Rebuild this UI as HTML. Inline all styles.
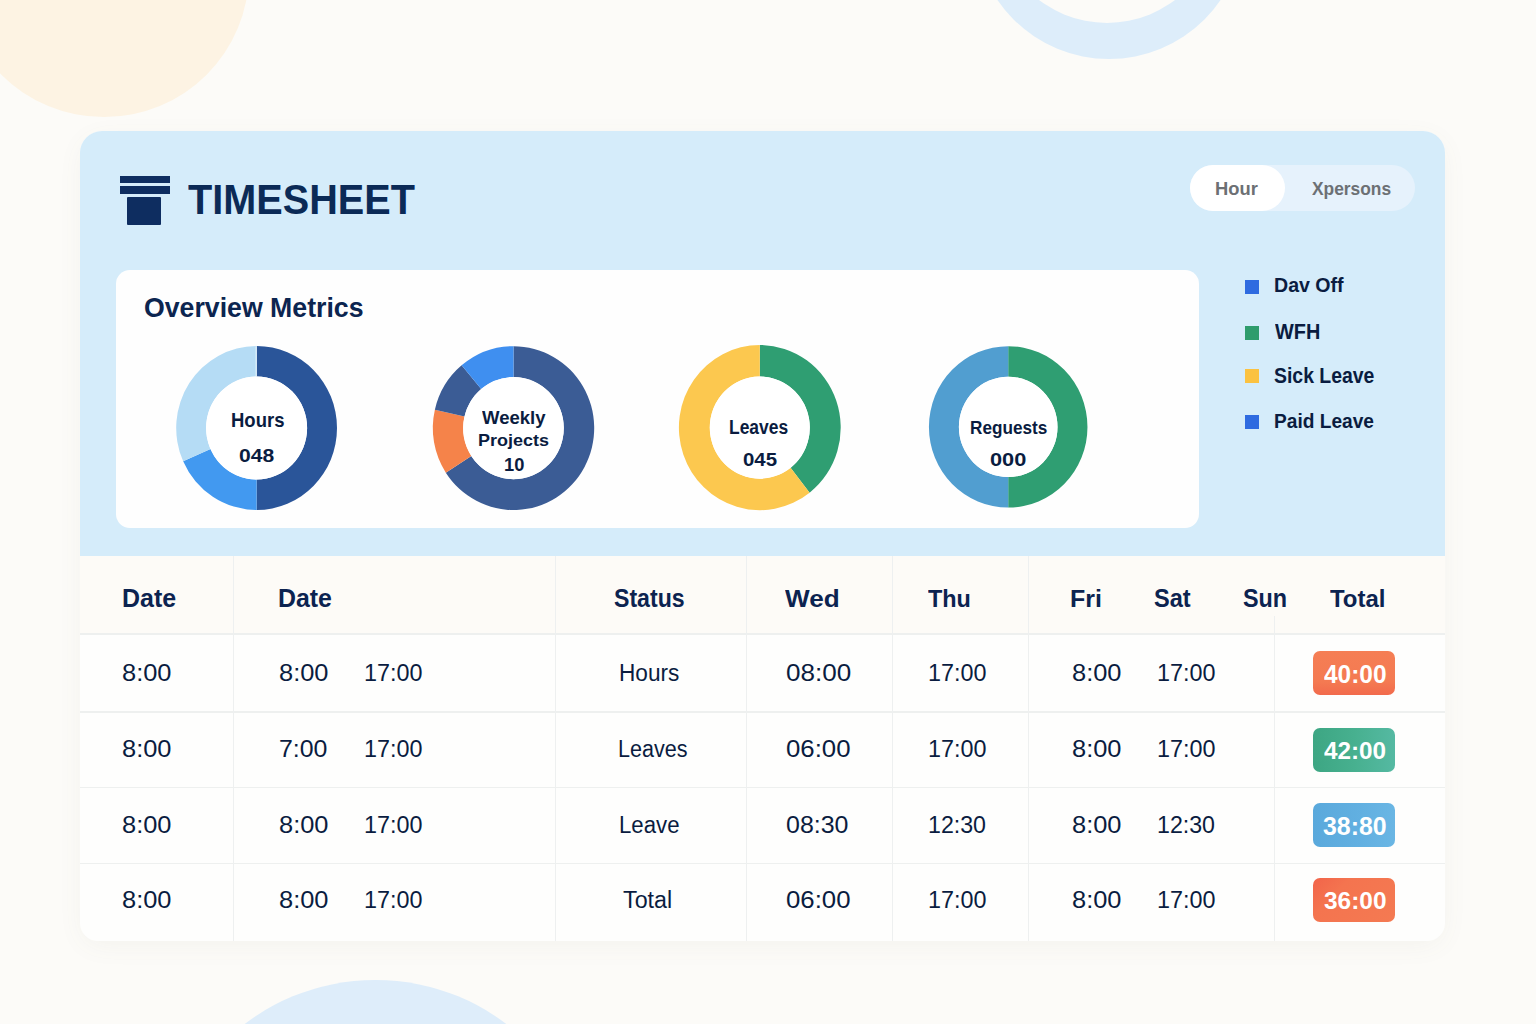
<!DOCTYPE html>
<html><head><meta charset="utf-8"><title>Timesheet</title>
<style>
*{margin:0;padding:0;box-sizing:border-box}
html,body{width:1536px;height:1024px;overflow:hidden}
body{background:#fcfbf8;position:relative;font-family:"Liberation Sans",Arial,sans-serif}
.abs{position:absolute}
.t{position:absolute;white-space:nowrap;transform-origin:0 50%}
.badge{position:absolute;left:1313px;width:82px;height:44px;border-radius:7px}
.vl{position:absolute;width:1px;background:#eef0f0}
.hl{position:absolute;height:1.5px;background:#eef0ef;left:80px;width:1365px}
</style></head><body>
<div class="abs" style="left:-40.7px;top:-172.4px;width:289.4px;height:289.4px;border-radius:50%;background:#fdf3e3"></div>
<div class="abs" style="left:973.5px;top:-211.4px;width:270px;height:270px;border-radius:50%;background:#ddedfa"></div>
<div class="abs" style="left:994.9px;top:-201.3px;width:224.2px;height:224.2px;border-radius:50%;background:#fcfbf8"></div>
<div class="abs" style="left:160.0px;top:979.8px;width:430.6px;height:430.6px;border-radius:50%;background:#deedfa"></div>
<!-- main card -->
<div class="abs" style="left:80px;top:131px;width:1365px;height:810px;border-radius:22px 22px 18px 18px;background:#fefefd;box-shadow:0 6px 28px -4px rgba(120,110,90,0.07)"></div>
<div class="abs" style="left:80px;top:131px;width:1365px;height:425px;border-radius:22px 22px 0 0;background:#d5ecfa"></div>
<!-- header row -->
<div class="abs" style="left:80px;top:556px;width:1365px;height:77.5px;background:#fdfbf7"></div>
<!-- logo icon -->
<div class="abs" style="left:120px;top:176px;width:49.5px;height:7px;background:#0e2d60"></div>
<div class="abs" style="left:120px;top:186.3px;width:49.5px;height:7.4px;background:#0e2d60"></div>
<div class="abs" style="left:127px;top:197.2px;width:34.3px;height:27.4px;background:#0e2d60;border-radius:1px"></div>
<!-- toggle -->
<div class="abs" style="left:1190px;top:164.5px;width:225px;height:46px;border-radius:23px;background:#e6f2fc"></div>
<div class="abs" style="left:1190px;top:164.5px;width:95px;height:46px;border-radius:23px;background:#ffffff"></div>
<!-- metrics card -->
<div class="abs" style="left:116px;top:270px;width:1083px;height:258px;border-radius:14px;background:#fefefe"></div>
<!-- legend squares -->
<div class="abs" style="left:1245px;top:279.7px;width:14px;height:14px;background:#2f6be0"></div>
<div class="abs" style="left:1245px;top:325.7px;width:14px;height:14px;background:#2e9c6c"></div>
<div class="abs" style="left:1245px;top:369px;width:14px;height:14px;background:#fbc240"></div>
<div class="abs" style="left:1245px;top:414.6px;width:14px;height:14px;background:#2f6be0"></div>
<svg class="abs" style="left:0;top:0" width="1536" height="1024" viewBox="0 0 1536 1024">
<g transform="translate(256.6 428.0) scale(1 1.0199)"><path d="M0.00,-80.40 A80.4,80.4 0 0 1 0.00,80.40 L0.00,50.50 A50.5,50.5 0 0 0 0.00,-50.50 Z" fill="#2a5599"/><path d="M0.00,80.40 A80.4,80.4 0 0 1 -73.45,32.70 L-46.13,20.54 A50.5,50.5 0 0 0 0.00,50.50 Z" fill="#4299f0"/><path d="M-73.45,32.70 A80.4,80.4 0 0 1 -0.00,-80.40 L-0.00,-50.50 A50.5,50.5 0 0 0 -46.13,20.54 Z" fill="#b5dcf5"/><circle cx="0" cy="0" r="50.5" fill="#ffffff"/><rect x="-1.0" y="-80.2" width="1.1" height="29.700000000000006" fill="#e6f4fc"/></g><g transform="translate(513.5 428.1) scale(1 1.0149)"><path d="M0.00,-80.70 A80.7,80.7 0 1 1 -67.68,43.95 L-42.19,27.40 A50.3,50.3 0 1 0 0.00,-50.30 Z" fill="#3b5c95"/><path d="M-67.68,43.95 A80.7,80.7 0 0 1 -78.63,-18.15 L-49.01,-11.32 A50.3,50.3 0 0 0 -42.19,27.40 Z" fill="#f5834a"/><path d="M-78.63,-18.15 A80.7,80.7 0 0 1 -51.87,-61.82 L-32.33,-38.53 A50.3,50.3 0 0 0 -49.01,-11.32 Z" fill="#3b5c95"/><path d="M-51.87,-61.82 A80.7,80.7 0 0 1 -0.00,-80.70 L-0.00,-50.30 A50.3,50.3 0 0 0 -32.33,-38.53 Z" fill="#3f8ff0"/><circle cx="0" cy="0" r="50.3" fill="#ffffff"/></g><g transform="translate(759.8 427.6) scale(1 1.0210)"><path d="M0.00,-80.90 A80.9,80.9 0 0 1 49.81,63.75 L30.78,39.40 A50.0,50.0 0 0 0 0.00,-50.00 Z" fill="#2f9e72"/><path d="M49.81,63.75 A80.9,80.9 0 1 1 -0.00,-80.90 L-0.00,-50.00 A50.0,50.0 0 1 0 30.78,39.40 Z" fill="#fcc84f"/><circle cx="0" cy="0" r="50.0" fill="#ffffff"/></g><g transform="translate(1008.2 426.9) scale(1 1.0177)"><path d="M0.00,-79.30 A79.3,79.3 0 0 1 0.00,79.30 L0.00,49.30 A49.3,49.3 0 0 0 0.00,-49.30 Z" fill="#2f9e72"/><path d="M0.00,79.30 A79.3,79.3 0 0 1 -0.00,-79.30 L-0.00,-49.30 A49.3,49.3 0 0 0 0.00,49.30 Z" fill="#519ed0"/><circle cx="0" cy="0" r="49.3" fill="#ffffff"/></g>
</svg>
<!-- table lines -->
<div class="hl" style="top:633px"></div>
<div class="hl" style="top:711.2px"></div>
<div class="hl" style="top:786.6px"></div>
<div class="hl" style="top:862.8px"></div>
<div class="vl" style="left:233px;top:556px;height:385px"></div>
<div class="vl" style="left:555px;top:556px;height:385px"></div>
<div class="vl" style="left:746px;top:556px;height:385px"></div>
<div class="vl" style="left:892px;top:556px;height:385px"></div>
<div class="vl" style="left:1028px;top:556px;height:385px"></div>
<div class="vl" style="left:1274px;top:616px;height:325px"></div>
<div class="badge" style="top:651.2px;background:linear-gradient(180deg,#f57e54 0%,#f47a52 70%,#f26a4c 100%)"></div><div class="badge" style="top:727.8px;background:linear-gradient(90deg,#3da683 0%,#47b08f 50%,#55b9a2 100%)"></div><div class="badge" style="top:803.2px;background:linear-gradient(90deg,#5aa9dc 0%,#62b0e1 60%,#6ab6e4 100%)"></div><div class="badge" style="top:878.4px;background:linear-gradient(135deg,#f2644a 0%,#f4744f 30%,#f47a52 100%)"></div>
<div class="t" style="left:188.00px;top:177.56px;font-size:43.42px;line-height:43.42px;font-weight:700;color:#0b2a56;transform:scaleX(0.9135);">TIMESHEET</div>
<div class="t" style="left:143.50px;top:294.86px;font-size:26.85px;line-height:26.85px;font-weight:700;color:#0c2550;transform:scaleX(0.9942);">Overview Metrics</div>
<div class="t" style="left:1215.30px;top:179.34px;font-size:19.02px;line-height:19.02px;font-weight:700;color:#6c7074;transform:scaleX(0.9646);">Hour</div>
<div class="t" style="left:1312.00px;top:179.65px;font-size:18.44px;line-height:18.44px;font-weight:700;color:#6c7074;transform:scaleX(0.9418);">Xpersons</div>
<div class="t" style="left:1273.50px;top:275.42px;font-size:20.85px;line-height:20.85px;font-weight:700;color:#0a1c40;transform:scaleX(0.9395);">Dav Off</div>
<div class="t" style="left:1274.60px;top:320.00px;font-size:22.73px;line-height:22.73px;font-weight:700;color:#0a1c40;transform:scaleX(0.8747);">WFH</div>
<div class="t" style="left:1273.50px;top:365.68px;font-size:21.53px;line-height:21.53px;font-weight:700;color:#0a1c40;transform:scaleX(0.9023);">Sick Leave</div>
<div class="t" style="left:1273.50px;top:411.32px;font-size:20.85px;line-height:20.85px;font-weight:700;color:#0a1c40;transform:scaleX(0.9176);">Paid Leave</div>
<div class="t" style="left:230.50px;top:409.08px;font-size:21.01px;line-height:21.01px;font-weight:700;color:#0a1c40;transform:scaleX(0.8805);">Hours</div>
<div class="t" style="left:238.70px;top:448.38px;font-size:17.64px;line-height:17.64px;font-weight:700;color:#0a1c40;transform:scaleX(1.1963);">048</div>
<div class="t" style="left:481.90px;top:408.65px;font-size:18.44px;line-height:18.44px;font-weight:700;color:#0a1c40;transform:scaleX(1.0051);">Weekly</div>
<div class="t" style="left:477.70px;top:431.73px;font-size:17.18px;line-height:17.18px;font-weight:700;color:#0a1c40;transform:scaleX(1.0464);">Projects</div>
<div class="t" style="left:504.20px;top:456.87px;font-size:17.77px;line-height:17.77px;font-weight:700;color:#0a1c40;transform:scaleX(1.0279);">10</div>
<div class="t" style="left:729.40px;top:417.78px;font-size:19.33px;line-height:19.33px;font-weight:700;color:#0a1c40;transform:scaleX(0.9016);">Leaves</div>
<div class="t" style="left:742.70px;top:451.29px;font-size:18.16px;line-height:18.16px;font-weight:700;color:#0a1c40;transform:scaleX(1.1245);">045</div>
<div class="t" style="left:969.50px;top:418.71px;font-size:18.02px;line-height:18.02px;font-weight:700;color:#0a1c40;transform:scaleX(0.9523);">Reguests</div>
<div class="t" style="left:990.30px;top:451.29px;font-size:18.16px;line-height:18.16px;font-weight:700;color:#0a1c40;transform:scaleX(1.1973);">000</div>
<div class="t" style="left:121.60px;top:586.18px;font-size:25.14px;line-height:25.14px;font-weight:700;color:#0c2350;transform:scaleX(0.9932);">Date</div>
<div class="t" style="left:277.90px;top:586.18px;font-size:25.14px;line-height:25.14px;font-weight:700;color:#0c2350;transform:scaleX(0.9900);">Date</div>
<div class="t" style="left:614.30px;top:586.18px;font-size:25.14px;line-height:25.14px;font-weight:700;color:#0c2350;transform:scaleX(0.9199);">Status</div>
<div class="t" style="left:785.40px;top:587.03px;font-size:24.21px;line-height:24.21px;font-weight:700;color:#0c2350;transform:scaleX(1.0781);">Wed</div>
<div class="t" style="left:928.00px;top:587.03px;font-size:24.21px;line-height:24.21px;font-weight:700;color:#0c2350;transform:scaleX(0.9672);">Thu</div>
<div class="t" style="left:1069.90px;top:587.03px;font-size:24.21px;line-height:24.21px;font-weight:700;color:#0c2350;transform:scaleX(1.0311);">Fri</div>
<div class="t" style="left:1153.60px;top:586.18px;font-size:25.14px;line-height:25.14px;font-weight:700;color:#0c2350;transform:scaleX(0.9373);">Sat</div>
<div class="t" style="left:1242.60px;top:586.18px;font-size:25.14px;line-height:25.14px;font-weight:700;color:#0c2350;transform:scaleX(0.9292);">Sun</div>
<div class="t" style="left:1329.60px;top:587.03px;font-size:24.21px;line-height:24.21px;font-weight:700;color:#0c2350;transform:scaleX(0.9903);">Total</div>
<div class="t" style="left:121.50px;top:661.72px;font-size:23.47px;line-height:23.47px;font-weight:400;color:#0a1c40;transform:scaleX(1.0830);">8:00</div>
<div class="t" style="left:279.30px;top:661.72px;font-size:23.47px;line-height:23.47px;font-weight:400;color:#0a1c40;transform:scaleX(1.0830);">8:00</div>
<div class="t" style="left:363.70px;top:661.72px;font-size:23.47px;line-height:23.47px;font-weight:400;color:#0a1c40;transform:scaleX(0.9953);">17:00</div>
<div class="t" style="left:618.60px;top:661.72px;font-size:23.47px;line-height:23.47px;font-weight:400;color:#0a1c40;transform:scaleX(0.9634);">Hours</div>
<div class="t" style="left:785.50px;top:661.72px;font-size:23.47px;line-height:23.47px;font-weight:400;color:#0a1c40;transform:scaleX(1.1101);">08:00</div>
<div class="t" style="left:927.90px;top:661.72px;font-size:23.47px;line-height:23.47px;font-weight:400;color:#0a1c40;transform:scaleX(0.9953);">17:00</div>
<div class="t" style="left:1071.60px;top:661.72px;font-size:23.47px;line-height:23.47px;font-weight:400;color:#0a1c40;transform:scaleX(1.0830);">8:00</div>
<div class="t" style="left:1156.60px;top:661.72px;font-size:23.47px;line-height:23.47px;font-weight:400;color:#0a1c40;transform:scaleX(0.9953);">17:00</div>
<div class="t" style="left:121.50px;top:738.42px;font-size:23.47px;line-height:23.47px;font-weight:400;color:#0a1c40;transform:scaleX(1.0830);">8:00</div>
<div class="t" style="left:279.30px;top:738.42px;font-size:23.47px;line-height:23.47px;font-weight:400;color:#0a1c40;transform:scaleX(1.0605);">7:00</div>
<div class="t" style="left:363.70px;top:738.42px;font-size:23.47px;line-height:23.47px;font-weight:400;color:#0a1c40;transform:scaleX(0.9953);">17:00</div>
<div class="t" style="left:617.90px;top:738.42px;font-size:23.47px;line-height:23.47px;font-weight:400;color:#0a1c40;transform:scaleX(0.9183);">Leaves</div>
<div class="t" style="left:785.50px;top:738.42px;font-size:23.47px;line-height:23.47px;font-weight:400;color:#0a1c40;transform:scaleX(1.0983);">06:00</div>
<div class="t" style="left:927.90px;top:738.42px;font-size:23.47px;line-height:23.47px;font-weight:400;color:#0a1c40;transform:scaleX(0.9953);">17:00</div>
<div class="t" style="left:1071.60px;top:738.42px;font-size:23.47px;line-height:23.47px;font-weight:400;color:#0a1c40;transform:scaleX(1.0830);">8:00</div>
<div class="t" style="left:1156.60px;top:738.42px;font-size:23.47px;line-height:23.47px;font-weight:400;color:#0a1c40;transform:scaleX(0.9953);">17:00</div>
<div class="t" style="left:121.50px;top:813.62px;font-size:23.47px;line-height:23.47px;font-weight:400;color:#0a1c40;transform:scaleX(1.0830);">8:00</div>
<div class="t" style="left:279.30px;top:813.62px;font-size:23.47px;line-height:23.47px;font-weight:400;color:#0a1c40;transform:scaleX(1.0830);">8:00</div>
<div class="t" style="left:363.70px;top:813.62px;font-size:23.47px;line-height:23.47px;font-weight:400;color:#0a1c40;transform:scaleX(0.9953);">17:00</div>
<div class="t" style="left:618.60px;top:813.62px;font-size:23.47px;line-height:23.47px;font-weight:400;color:#0a1c40;transform:scaleX(0.9457);">Leave</div>
<div class="t" style="left:785.50px;top:813.62px;font-size:23.47px;line-height:23.47px;font-weight:400;color:#0a1c40;transform:scaleX(1.0639);">08:30</div>
<div class="t" style="left:927.90px;top:813.62px;font-size:23.47px;line-height:23.47px;font-weight:400;color:#0a1c40;transform:scaleX(0.9871);">12:30</div>
<div class="t" style="left:1071.60px;top:813.62px;font-size:23.47px;line-height:23.47px;font-weight:400;color:#0a1c40;transform:scaleX(1.0830);">8:00</div>
<div class="t" style="left:1156.60px;top:813.62px;font-size:23.47px;line-height:23.47px;font-weight:400;color:#0a1c40;transform:scaleX(0.9871);">12:30</div>
<div class="t" style="left:121.50px;top:889.12px;font-size:23.47px;line-height:23.47px;font-weight:400;color:#0a1c40;transform:scaleX(1.0830);">8:00</div>
<div class="t" style="left:279.30px;top:889.12px;font-size:23.47px;line-height:23.47px;font-weight:400;color:#0a1c40;transform:scaleX(1.0830);">8:00</div>
<div class="t" style="left:363.70px;top:889.12px;font-size:23.47px;line-height:23.47px;font-weight:400;color:#0a1c40;transform:scaleX(0.9953);">17:00</div>
<div class="t" style="left:623.30px;top:889.12px;font-size:23.47px;line-height:23.47px;font-weight:400;color:#0a1c40;transform:scaleX(0.9914);">Total</div>
<div class="t" style="left:785.50px;top:889.12px;font-size:23.47px;line-height:23.47px;font-weight:400;color:#0a1c40;transform:scaleX(1.0983);">06:00</div>
<div class="t" style="left:927.90px;top:889.12px;font-size:23.47px;line-height:23.47px;font-weight:400;color:#0a1c40;transform:scaleX(0.9953);">17:00</div>
<div class="t" style="left:1071.60px;top:889.12px;font-size:23.47px;line-height:23.47px;font-weight:400;color:#0a1c40;transform:scaleX(1.0830);">8:00</div>
<div class="t" style="left:1156.60px;top:889.12px;font-size:23.47px;line-height:23.47px;font-weight:400;color:#0a1c40;transform:scaleX(0.9953);">17:00</div>
<div class="t" style="left:1323.70px;top:662.24px;font-size:24.90px;line-height:24.90px;font-weight:700;color:#ffffff;transform:scaleX(0.9814);">40:00</div>
<div class="t" style="left:1323.70px;top:738.67px;font-size:24.45px;line-height:24.45px;font-weight:700;color:#ffffff;transform:scaleX(0.9938);">42:00</div>
<div class="t" style="left:1322.70px;top:813.87px;font-size:25.04px;line-height:25.04px;font-weight:700;color:#ffffff;transform:scaleX(0.9930);">38:80</div>
<div class="t" style="left:1323.70px;top:888.57px;font-size:24.74px;line-height:24.74px;font-weight:700;color:#ffffff;transform:scaleX(0.9878);">36:00</div>
</body></html>
